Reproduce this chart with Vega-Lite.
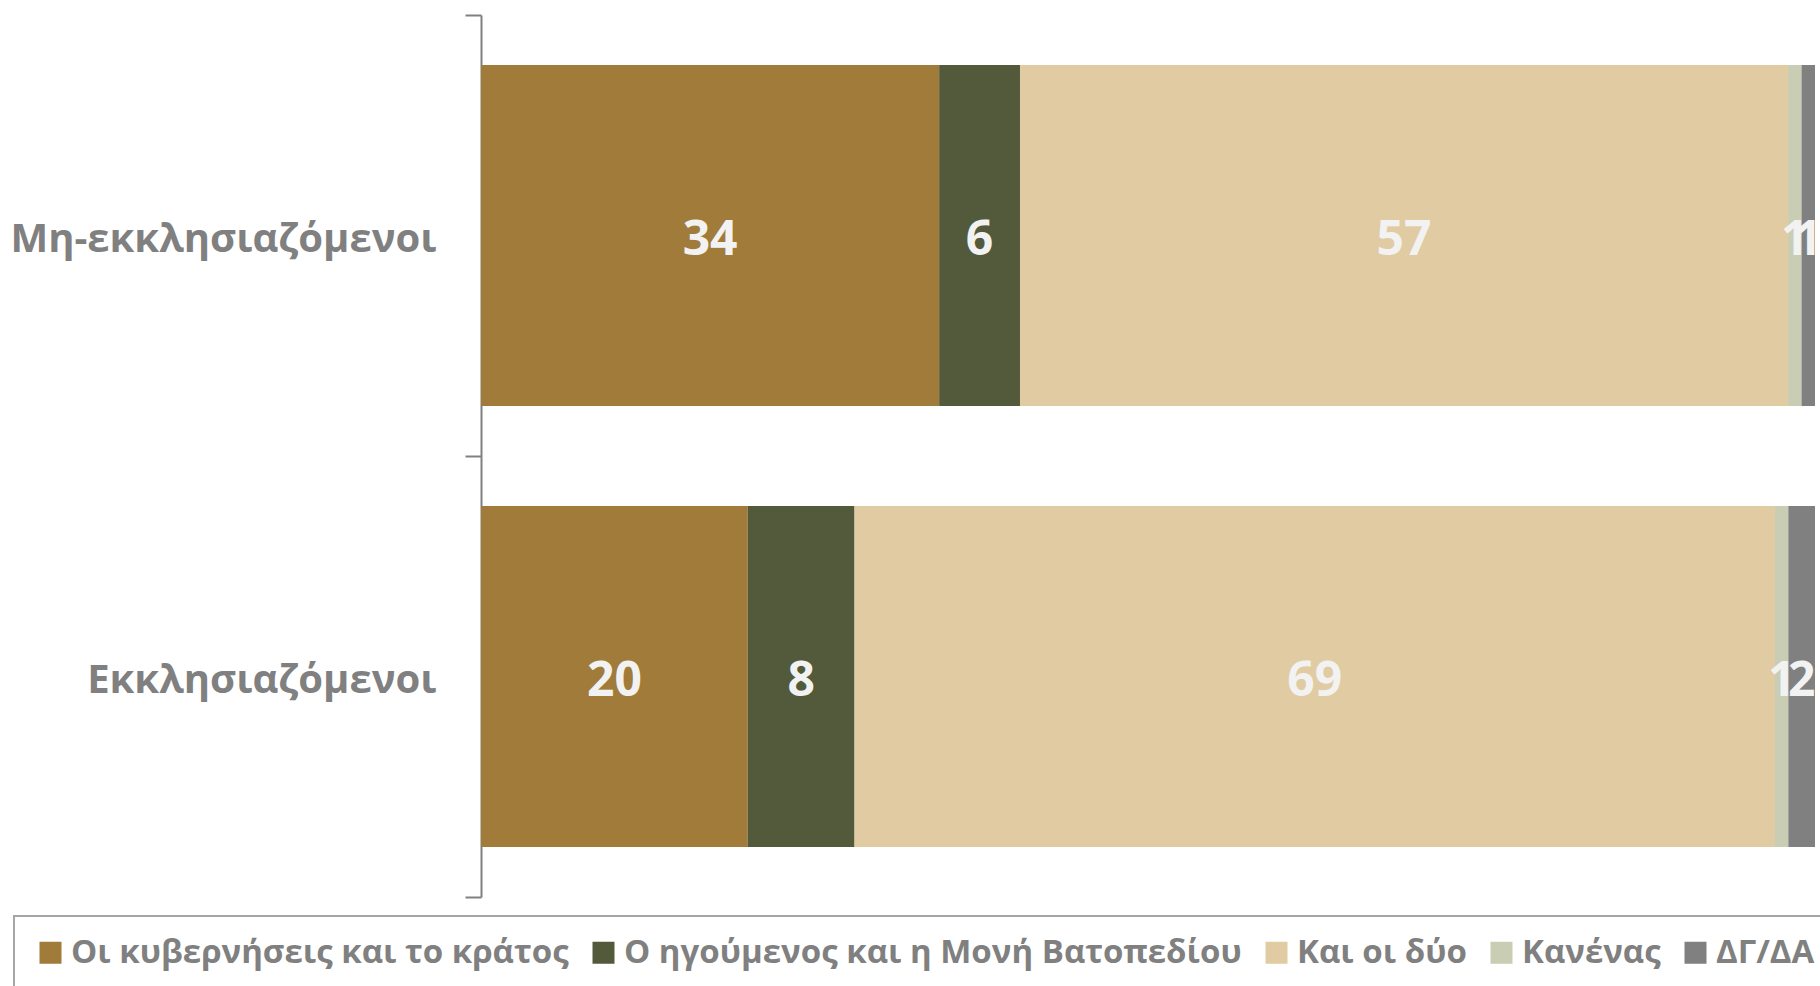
{
  "$schema": "https://vega.github.io/schema/vega-lite/v6.json",
  "width": 1334,
  "height": 882,
  "autosize": {"type": "none"},
  "padding": {"left": 481, "top": 15, "right": 5, "bottom": 89},
  "background": "white",
  "config": {
    "view": {"stroke": null},
    "font": "Open Sans"
  },
  "data": {
    "values": [
      {"g": "Μη-εκκλησιαζόμενοι", "c": "Οι κυβερνήσεις και το κράτος", "n": 1, "v": 34},
      {"g": "Μη-εκκλησιαζόμενοι", "c": "Ο ηγούμενος και η Μονή Βατοπεδίου", "n": 2, "v": 6},
      {"g": "Μη-εκκλησιαζόμενοι", "c": "Και οι δύο", "n": 3, "v": 57},
      {"g": "Μη-εκκλησιαζόμενοι", "c": "Κανένας", "n": 4, "v": 1},
      {"g": "Μη-εκκλησιαζόμενοι", "c": "ΔΓ/ΔΑ", "n": 5, "v": 1},
      {"g": "Εκκλησιαζόμενοι", "c": "Οι κυβερνήσεις και το κράτος", "n": 1, "v": 20},
      {"g": "Εκκλησιαζόμενοι", "c": "Ο ηγούμενος και η Μονή Βατοπεδίου", "n": 2, "v": 8},
      {"g": "Εκκλησιαζόμενοι", "c": "Και οι δύο", "n": 3, "v": 69},
      {"g": "Εκκλησιαζόμενοι", "c": "Κανένας", "n": 4, "v": 1},
      {"g": "Εκκλησιαζόμενοι", "c": "ΔΓ/ΔΑ", "n": 5, "v": 2}
    ]
  },
  "transform": [
    {"stack": "v", "groupby": ["g"], "sort": [{"field": "n", "order": "ascending"}], "offset": "normalize", "as": ["x0", "x1"]},
    {"calculate": "(datum.x0 + datum.x1) / 2", "as": "xm"}
  ],
  "encoding": {
    "y": {
      "field": "g",
      "type": "nominal",
      "sort": ["Μη-εκκλησιαζόμενοι", "Εκκλησιαζόμενοι"],
      "scale": {"paddingInner": 0, "paddingOuter": 0},
      "axis": {
        "title": null,
        "domainColor": "#808080",
        "domainWidth": 2,
        "tickColor": "#808080",
        "tickWidth": 2,
        "tickSize": 16,
        "tickBand": "extent",
        "labelFont": "Open Sans",
        "labelFontSize": 40,
        "labelFontWeight": "bold",
        "labelColor": "#808080",
        "labelPadding": 29,
        "labelOffset": 4,
        "labelLimit": 600
      }
    }
  },
  "layer": [
    {
      "mark": {"type": "bar", "height": {"band": 0.773}},
      "encoding": {
        "x": {"field": "x0", "type": "quantitative", "scale": {"domain": [0, 1], "nice": false}, "axis": null},
        "x2": {"field": "x1"},
        "color": {
          "field": "c",
          "type": "nominal",
          "sort": ["Οι κυβερνήσεις και το κράτος", "Ο ηγούμενος και η Μονή Βατοπεδίου", "Και οι δύο", "Κανένας", "ΔΓ/ΔΑ"],
          "scale": {
            "domain": ["Οι κυβερνήσεις και το κράτος", "Ο ηγούμενος και η Μονή Βατοπεδίου", "Και οι δύο", "Κανένας", "ΔΓ/ΔΑ"],
            "range": ["#a07b39", "#535a3b", "#e1cba2", "#c9cdb3", "#808080"]
          },
          "legend": {
            "title": null,
            "orient": "none",
            "direction": "horizontal",
            "legendX": -467,
            "legendY": 901,
            "strokeColor": "#a6a6a6",
            "padding": 20,
            "symbolType": "square",
            "symbolSize": 484,
            "symbolStrokeWidth": 0,
            "labelFont": "Open Sans",
            "labelFontSize": 33,
            "labelFontWeight": "bold",
            "labelColor": "#808080",
            "labelOffset": 4,
            "columnPadding": 18,
            "labelLimit": 800,
            "encode": {"legend": {"update": {"strokeWidth": {"value": 2}}}}
          }
        }
      }
    },
    {
      "mark": {"type": "text", "font": "Open Sans", "fontSize": 48, "fontWeight": "bold", "color": "#f2f2f2", "baseline": "middle", "align": "center", "dy": 5},
      "encoding": {
        "x": {"field": "xm", "type": "quantitative", "scale": {"domain": [0, 1], "nice": false}},
        "text": {"field": "v", "type": "quantitative"}
      }
    }
  ]
}
